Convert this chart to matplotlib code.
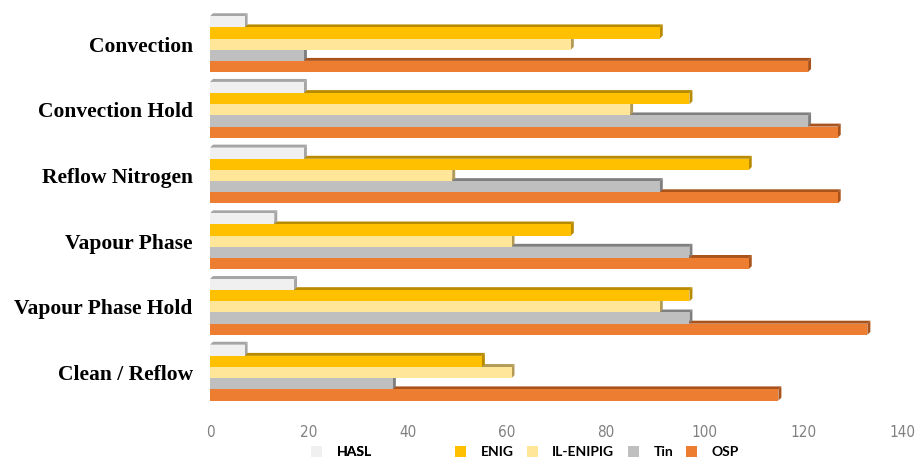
import numpy as np
import matplotlib.pyplot as plt
from matplotlib.patches import Polygon, Patch

categories = ['Convection', 'Convection Hold', 'Reflow Nitrogen',
              'Vapour Phase', 'Vapour Phase Hold', 'Clean / Reflow']
hasl = [7, 19, 19, 13, 17, 7]
enig = [91, 97, 109, 73, 97, 55]
il_enipig = [73, 85, 49, 61, 91, 61]
tin = [19, 121, 91, 97, 97, 37]
osp = [121, 127, 127, 109, 133, 115]

series = [('HASL', hasl, '#F0F0F0', '#A5A5A5'),
          ('ENIG', enig, '#FFC000', '#B88A00'),
          ('IL-ENIPIG', il_enipig, '#FFE699', '#B39A55'),
          ('Tin', tin, '#BFBFBF', '#7F7F7F'),
          ('OSP', osp, '#ED7D31', '#A9521A')]

fig = plt.figure(figsize=(9.22, 4.63), dpi=100)
ax = fig.add_axes([0.2278, 0.125, 0.7505, 0.864])

bar_h = 0.17
dx, dy = 0.6, 0.045   # depth of the fake 3d look, in data units
y = np.arange(len(categories))

# draw from the bottom bar of each group up so upper bars cover the tops below
for k in range(len(series) - 1, -1, -1):
    name, vals, face, side = series[k]
    yc = y - 0.34 + k * bar_h
    for v, c in zip(vals, yc):
        top = c - bar_h / 2
        bot = c + bar_h / 2
        ax.add_patch(Polygon([(0, top), (v, top), (v + dx, top - dy), (dx, top - dy)],
                             closed=True, facecolor=side, edgecolor='none', zorder=2))
        ax.add_patch(Polygon([(v, top), (v + dx, top - dy), (v + dx, bot - dy), (v, bot)],
                             closed=True, facecolor=side, edgecolor='none', zorder=2))
        ax.barh(c, v, height=bar_h, color=face, edgecolor='none', zorder=3)

ax.set_xlim(0, 140)
ax.set_ylim(5.495, -0.594)
ax.set_xticks(np.arange(0, 141, 20))
ax.set_yticks(y)
ax.set_yticklabels(categories, family='Liberation Serif', fontweight='bold', fontsize=15.5)
for t in ax.get_xticklabels():
    t.set_family('DejaVu Sans')
    t.set_stretch('condensed')
    t.set_fontsize(11)
    t.set_color('#808080')
ax.tick_params(axis='x', length=0, pad=14)
ax.tick_params(axis='y', length=0, pad=12.5)
for s in ax.spines.values():
    s.set_visible(False)

leg_font = {'family': 'Lato', 'weight': 'bold', 'size': 10}
h1 = [Patch(facecolor=series[0][2], edgecolor='none')]
leg1 = fig.legend(h1, ['HASL'], loc='center', bbox_to_anchor=(341.5 / 922, 1 - 452 / 463),
                  frameon=False, prop=leg_font, handlelength=0.8, handleheight=0.8,
                  handletextpad=1.05)
h2 = [Patch(facecolor=s[2], edgecolor='none') for s in series[1:]]
fig.legend(h2, [s[0] for s in series[1:]], loc='center', ncol=4,
           bbox_to_anchor=(597 / 922, 1 - 452 / 463), frameon=False, prop=leg_font,
           handlelength=0.8, handleheight=0.8, handletextpad=1.05, columnspacing=0.95)
fig.add_artist(leg1)

fig.savefig('out.png', dpi=100)
